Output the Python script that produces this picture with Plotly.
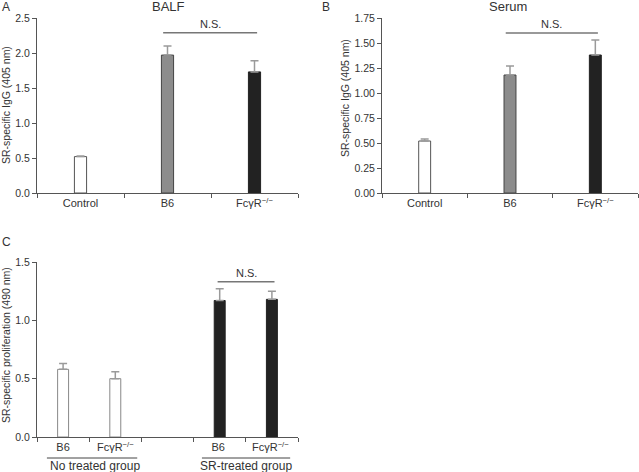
import plotly.graph_objects as go

FC = "FcγR<sup>−/−</sup>"

# Panel A (BALF)
a_cats = ["Control", "B6", FC]
a_vals = [0.52, 1.97, 1.73]
a_errs = [0.01, 0.13, 0.16]

# Panel B (Serum)
b_cats = ["Control", "B6", FC]
b_vals = [0.52, 1.18, 1.38]
b_errs = [0.02, 0.09, 0.15]

# Panel C (proliferation)
c_cats = ["B6", FC, " ", "B6 ", FC + " "]
c_vals = [0.58, 0.50, None, 1.17, 1.18]
c_errs = [0.05, 0.06, 0, 0.10, 0.07]

ns_a = 2.29
ns_b = 1.60
ns_c = 1.33

AX = "#555555"
TXT = "#333333"
FONT = "Liberation Sans, Arial, sans-serif"

fill_ab = ["#ffffff", "#8c8c8c", "#222222"]
line_ab = ["#555555", "#444444", "#222222"]
fill_c = ["#ffffff", "#ffffff", "#ffffff", "#222222", "#222222"]
line_c = ["#888888", "#888888", "#888888", "#222222", "#222222"]

fig = go.Figure()

def err(e):
    return dict(type="data", array=e, arrayminus=[0] * len(e), symmetric=False,
                color="#9a9a9a", thickness=1.5, width=4)

fig.add_trace(go.Bar(x=a_cats, y=a_vals, width=0.14, xaxis="x", yaxis="y",
                     marker=dict(color=fill_ab, line=dict(color=line_ab, width=1)),
                     error_y=err(a_errs), showlegend=False))
fig.add_trace(go.Bar(x=b_cats, y=b_vals, width=0.14, xaxis="x2", yaxis="y2",
                     marker=dict(color=fill_ab, line=dict(color=line_ab, width=1)),
                     error_y=err(b_errs), showlegend=False))
fig.add_trace(go.Bar(x=c_cats, y=c_vals, width=0.21, xaxis="x3", yaxis="y3",
                     marker=dict(color=fill_c, line=dict(color=line_c, width=1)),
                     error_y=err(c_errs), showlegend=False))

W, H = 639, 472
def px(xp): return xp / W
def py(yp): return 1 - yp / H

xcommon = dict(type="category", showline=True, linecolor=AX, linewidth=1,
               ticks="outside", tickson="boundaries", ticklen=4, tickcolor=AX,
               showgrid=False, zeroline=False, fixedrange=True, automargin=False,
               tickfont=dict(size=11, color=TXT, family=FONT))
ycommon = dict(showline=True, linecolor=AX, linewidth=1, ticks="outside",
               ticklen=4, tickcolor=AX, showgrid=False, zeroline=False, automargin=False,
               fixedrange=True, tickfont=dict(size=10.5, color=TXT, family=FONT))

fig.update_layout(
    template="none",
    width=W, height=H, margin=dict(l=0, r=0, t=0, b=0, pad=0), autosize=False,
    paper_bgcolor="white", plot_bgcolor="white",
    font=dict(family=FONT, color=TXT),
    xaxis=dict(**xcommon, domain=[px(37), px(298)], anchor="y",
               categoryorder="array", categoryarray=a_cats, range=[-0.5, 2.5]),
    yaxis=dict(**ycommon, domain=[py(193), py(18)], anchor="x",
               range=[0, 2.5], tickvals=[0, 0.5, 1, 1.5, 2, 2.5], tickformat=".1f"),
    xaxis2=dict(**xcommon, domain=[px(382), px(638)], anchor="y2",
                categoryorder="array", categoryarray=b_cats, range=[-0.5, 2.5]),
    yaxis2=dict(**ycommon, domain=[py(193), py(18)], anchor="x2",
                range=[0, 1.75], tickvals=[0, 0.25, 0.5, 0.75, 1, 1.25, 1.5, 1.75], tickformat=".2f"),
    xaxis3=dict(**xcommon, domain=[px(37), px(298)], anchor="y3",
                categoryorder="array", categoryarray=c_cats, range=[-0.5, 4.5]),
    yaxis3=dict(**ycommon, domain=[py(437), py(262)], anchor="x3",
                range=[0, 1.5], tickvals=[0, 0.5, 1, 1.5], tickformat=".1f"),
)

shapes = []
ann = []
# N.S. brackets
for xr, yr, x0, x1, yv in [("x", "y", 0.95, 2.03, ns_a), ("x2", "y2", 0.95, 2.03, ns_b),
                           ("x3", "y3", 2.96, 4.05, ns_c)]:
    shapes.append(dict(type="line", xref=xr, yref=yr, x0=x0, x1=x1, y0=yv, y1=yv,
                       line=dict(color="#777777", width=1.5)))
    ann.append(dict(xref=xr, yref=yr, x=(x0 + x1) / 2, y=yv, text="N.S.", showarrow=False,
                    xanchor="center", yanchor="bottom", yshift=1, font=dict(size=11, color=TXT)))

# group lines in C
for x0, x1, xc, label in [(-0.31, 1.42, 0.61, "No treated group"), (2.66, 4.35, 3.51, "SR-treated group")]:
    shapes.append(dict(type="line", xref="x3", yref="paper", x0=x0, x1=x1, y0=py(458), y1=py(458),
                       line=dict(color="#444444", width=1)))
    ann.append(dict(xref="x3", yref="paper", x=xc, y=py(466), text=label, showarrow=False,
                    xanchor="center", yanchor="middle", font=dict(size=12, color=TXT)))

def pa(x, y, text, size, angle=0):
    return dict(xref="paper", yref="paper", x=px(x), y=py(y), text=text, showarrow=False,
                xanchor="center", yanchor="middle", textangle=angle,
                font=dict(size=size, color=TXT))

ann += [
    pa(168, 7, "BALF", 13),
    pa(508, 7, "Serum", 13),
    pa(6, 7, "A", 12),
    pa(326, 7, "B", 12),
    pa(6, 242, "C", 12),
    pa(6, 105, "SR-specific IgG (405 nm)", 10.5, -90),
    pa(345, 98, "SR-specific IgG (405 nm)", 10.5, -90),
    pa(6, 345, "SR-specific proliferation (490 nm)", 10.5, -90),
]

fig.update_layout(shapes=shapes, annotations=ann)
fig.write_html("out.html", config={"displayModeBar": False, "staticPlot": True},
               post_script="document.body.style.margin='0px';document.body.style.overflow='hidden';")
